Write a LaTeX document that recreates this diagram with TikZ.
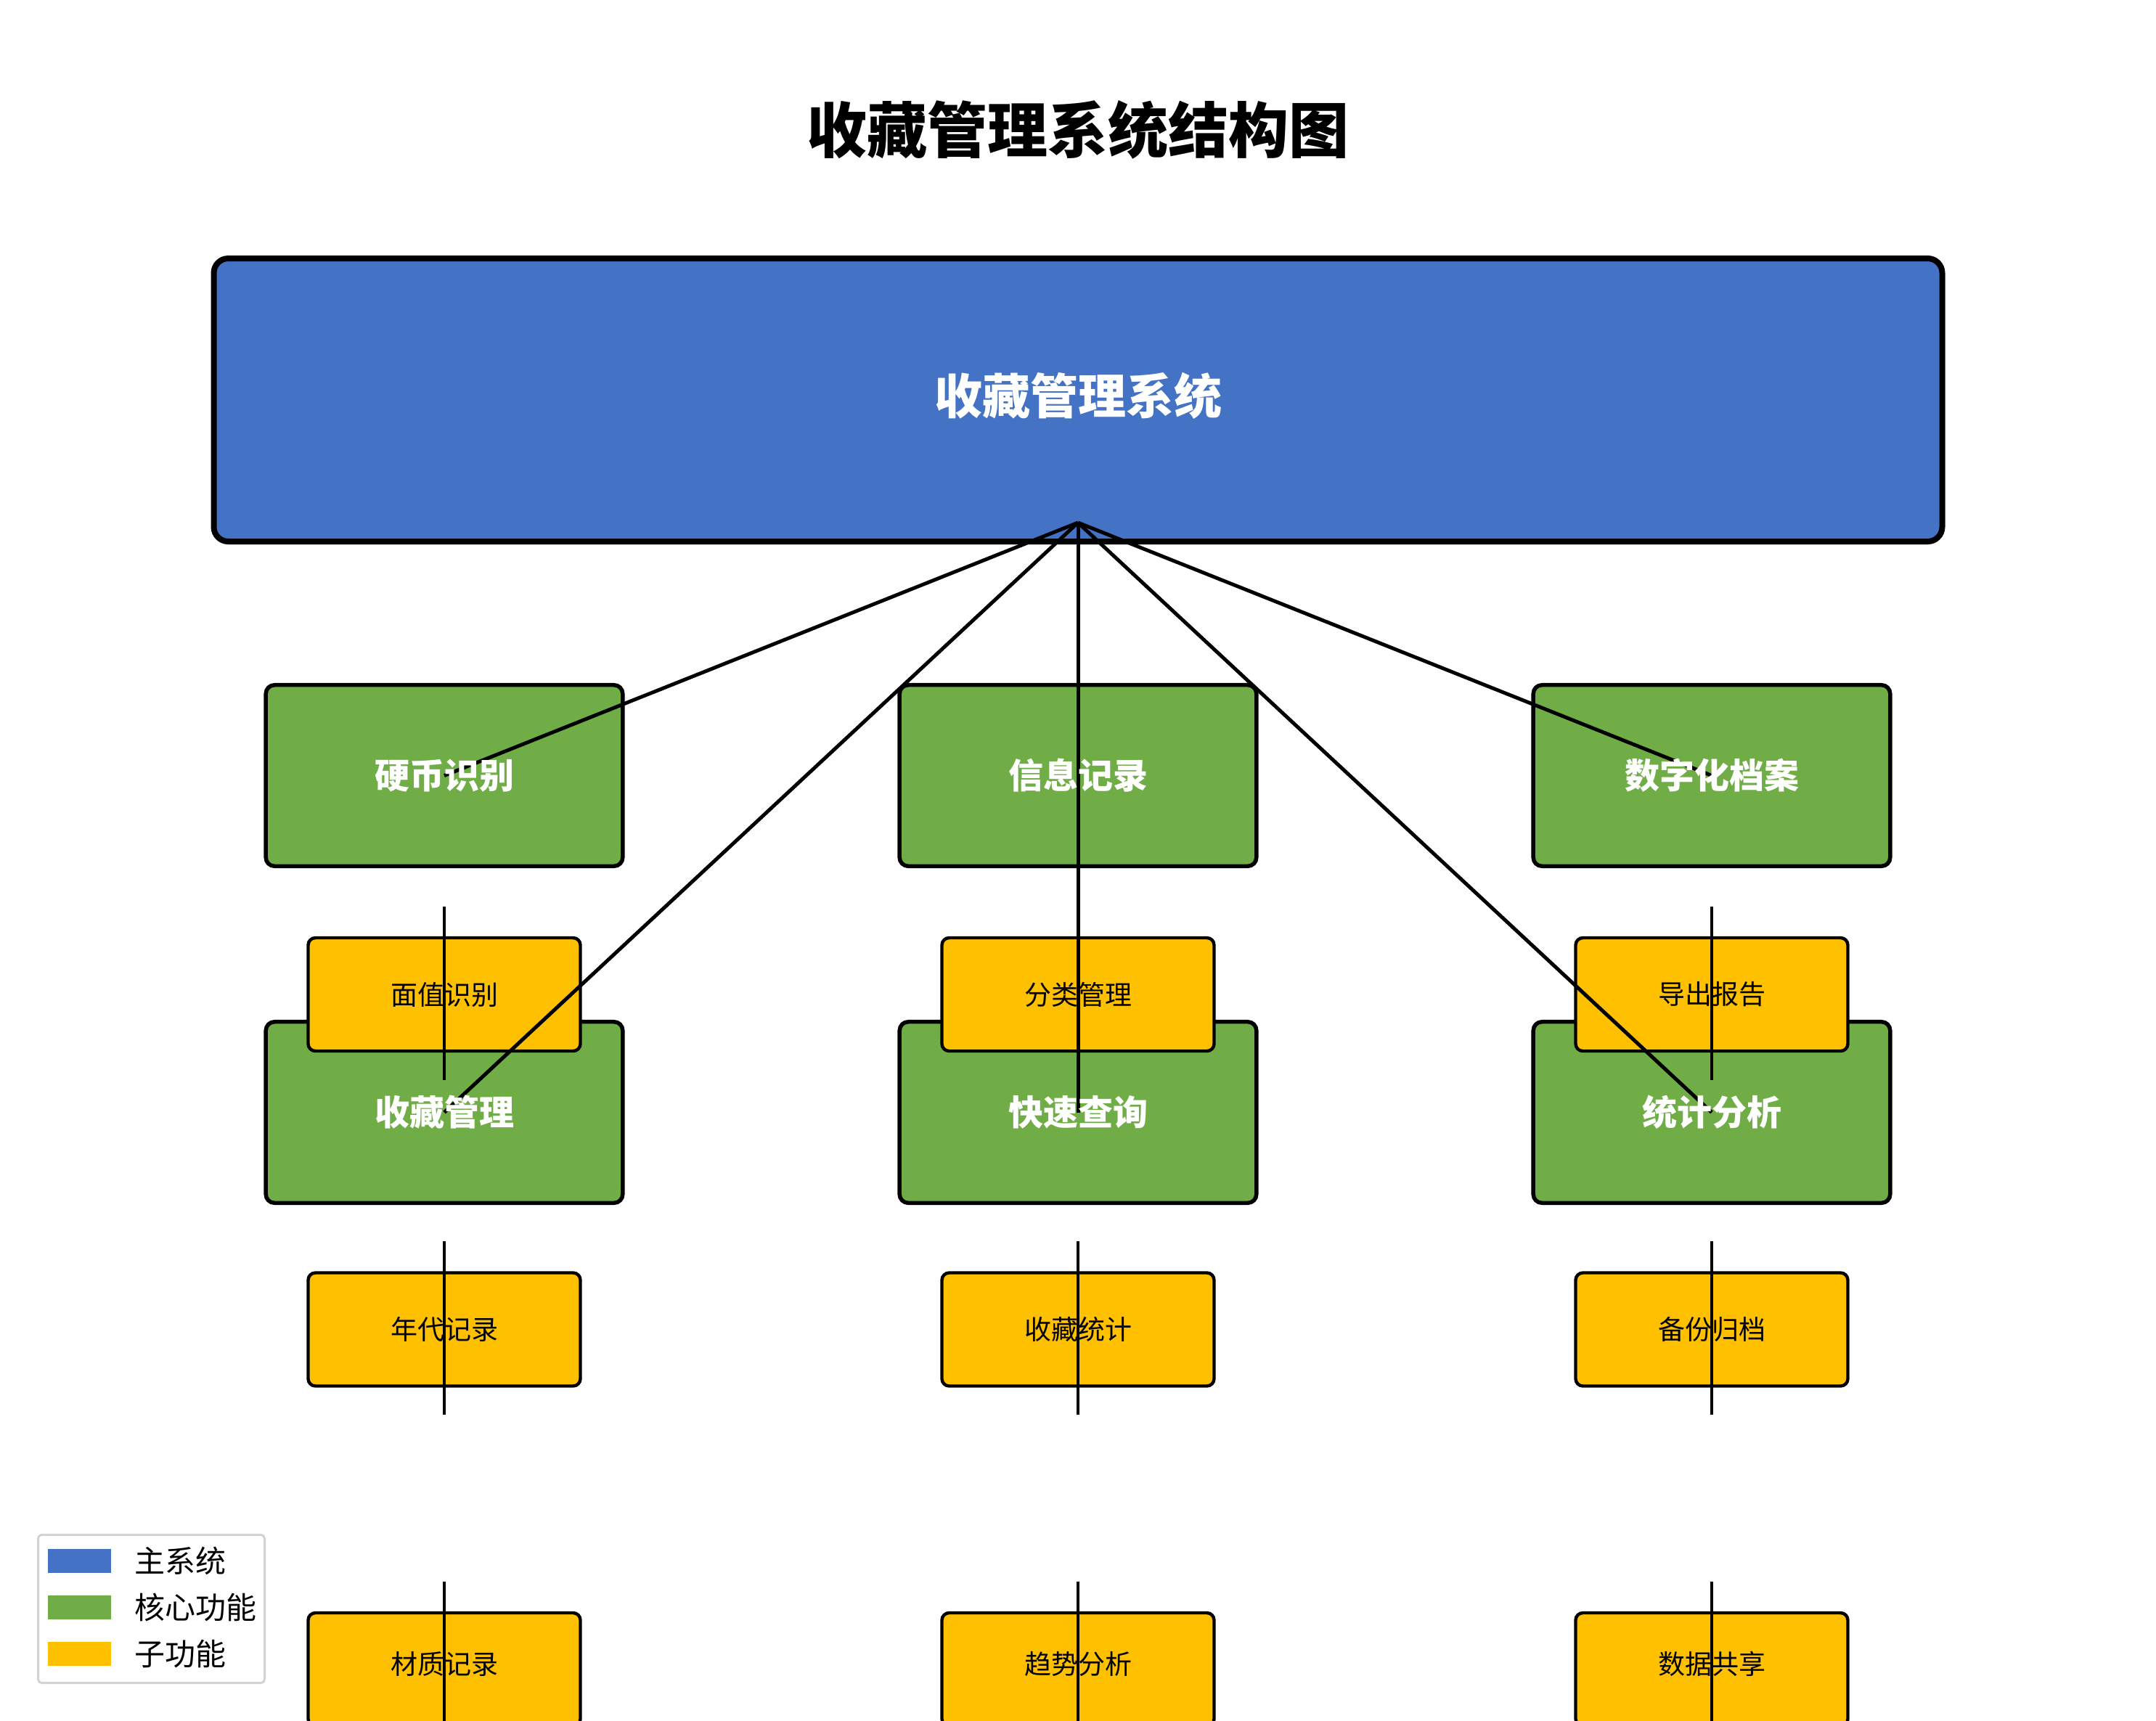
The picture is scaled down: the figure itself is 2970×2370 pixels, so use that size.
\documentclass[tikz,border=0pt]{standalone}
\usepackage{fontspec}
\setmainfont{Noto Sans CJK SC}
\usetikzlibrary{calc}
\definecolor{mainblue}{HTML}{4472C4}
\definecolor{coregreen}{HTML}{70AD47}
\definecolor{subyellow}{HTML}{FFC000}
\definecolor{legendgray}{HTML}{D3D3D3}

\begin{document}
\begin{tikzpicture}[x=0.25pt,y=-0.25pt,
  mainbox/.style={draw=black, fill=mainblue, line width=2pt, rounded corners=5pt,
    minimum width=595.25pt, minimum height=97.5pt, inner sep=0pt},
  corebox/.style={draw=black, fill=coregreen, line width=1.375pt, rounded corners=3pt,
    minimum width=122.9pt, minimum height=62.4pt, inner sep=0pt},
  subbox/.style={draw=black, fill=subyellow, line width=1.1pt, rounded corners=2.5pt,
    minimum width=93.75pt, minimum height=39pt, inner sep=0pt},
  link/.style={draw=black, line width=1.25pt},
  tick/.style={draw=black, line width=1pt},
  titletext/.style={font=\bfseries\fontsize{20.75pt}{24pt}\selectfont, inner sep=0pt},
  maintext/.style={text=white, font=\bfseries\fontsize{16.5pt}{20pt}\selectfont, inner sep=0pt},
  coretext/.style={text=white, font=\bfseries\fontsize{12pt}{14pt}\selectfont, inner sep=0pt},
  subtext/.style={text=black, font=\fontsize{9.25pt}{11pt}\selectfont, inner sep=0pt},
  legendtext/.style={font=\fontsize{10.5pt}{12pt}\selectfont, anchor=west, inner sep=0pt},
  swatch/.style={minimum width=21.75pt, minimum height=8.25pt, inner sep=0pt}
]
\useasboundingbox (0,0) rectangle (2970,2370);
\clip (0,0) rectangle (2970,2370);

% title
\node[titletext] (title) at (1485,179) {收藏管理系统结构图};

% main system box
\node[mainbox] (main) at (1485,551) {};
\coordinate (hub) at (1485,720);

% core function boxes
\node[corebox] (g1) at (612,1068.5) {};
\node[corebox] (g2) at (1485,1068.5) {};
\node[corebox] (g3) at (2358,1068.5) {};
\node[corebox] (g4) at (612,1532.5) {};
\node[corebox] (g5) at (1485,1532.5) {};
\node[corebox] (g6) at (2358,1532.5) {};

% sub function boxes (the last row runs past the lower edge)
\node[subbox] (y1) at (612,1370) {};
\node[subbox] (y2) at (1485,1370) {};
\node[subbox] (y3) at (2358,1370) {};
\node[subbox] (y4) at (612,1831.5) {};
\node[subbox] (y5) at (1485,1831.5) {};
\node[subbox] (y6) at (2358,1831.5) {};
\node[subbox] (y7) at (612,2300) {};
\node[subbox] (y8) at (1485,2300) {};
\node[subbox] (y9) at (2358,2300) {};

% connectors from the main system
\foreach \g in {g1,g2,g3,g4,g5,g6}
  \draw[link] (hub) -- (\g.center);

% short vertical strokes through the sub function boxes
\foreach \y in {y1,y2,y3,y4,y5,y6,y7,y8,y9}
  \draw[tick] ($(\y.center)+(0,-121.5)$) -- ($(\y.center)+(0,117.5)$);

% labels
\node[maintext] (maint) at (1485,545) {收藏管理系统};
\node[coretext] (g1t) at (g1) {硬币识别};
\node[coretext] (g2t) at (g2) {信息记录};
\node[coretext] (g3t) at (g3) {数字化档案};
\node[coretext] (g4t) at (g4) {收藏管理};
\node[coretext] (g5t) at (g5) {快速查询};
\node[coretext] (g6t) at (g6) {统计分析};
\node[subtext] (y1t) at (y1) {面值识别};
\node[subtext] (y2t) at (y2) {分类管理};
\node[subtext] (y3t) at (y3) {导出报告};
\node[subtext] (y4t) at (y4) {年代记录};
\node[subtext] (y5t) at (y5) {收藏统计};
\node[subtext] (y6t) at (y6) {备份归档};
\node[subtext] (y7t) at ($(y7)+(0,-8)$) {材质记录};
\node[subtext] (y8t) at ($(y8)+(0,-8)$) {趋势分析};
\node[subtext] (y9t) at ($(y9)+(0,-8)$) {数据共享};

% legend
\node[draw=legendgray, line width=0.75pt, fill=white, rounded corners=1.25pt,
  minimum width=78pt, minimum height=51pt, inner sep=0pt] (legend) at (208.5,2216.5) {};
\node[swatch, fill=mainblue] (sw1) at (109.5,2150) {};
\node[swatch, fill=coregreen] (sw2) at (109.5,2214) {};
\node[swatch, fill=subyellow] (sw3) at (109.5,2278) {};
\node[legendtext] (lb1) at (185,2150) {主系统};
\node[legendtext] (lb2) at (185,2214) {核心功能};
\node[legendtext] (lb3) at (185,2278) {子功能};
\end{tikzpicture}
\end{document}
